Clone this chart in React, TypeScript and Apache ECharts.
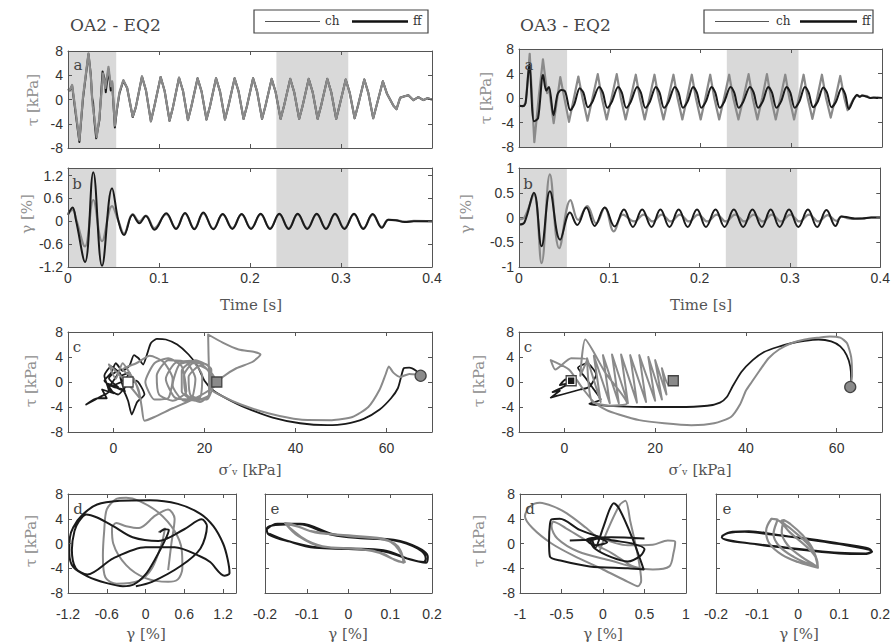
import React, { useEffect, useRef } from "react";
import * as echarts from "echarts";

type Pt = [number, number];

// ---------------- shared ----------------
const shadeWindows: Pt[] = [[0, 0.053], [0.229, 0.308]];
const timeTicks = [0, 0.1, 0.2, 0.3, 0.4];
const timeInnerTicks = [0.1, 0.2, 0.3];
const tauTicks = [-8, -4, 0, 4, 8];
const sigmaTicks = [0, 20, 40, 60];
const gammaTicksOA2 = [-1.2, -0.6, 0, 0.6, 1.2];
const gammaTicksOA3 = [-1, -0.5, 0, 0.5, 1];
const gammaLoopTicks = [-0.2, -0.1, 0, 0.1, 0.2];

// ---------------- OA2 - EQ2 ----------------
const oa2TauStartCh: Pt[] = [
  [0, 1.8], [0.002, 1.6], [0.0045, 2.4], [0.0085, -2.0], [0.0125, -6.7], [0.0165, 0.5], [0.0225, 7.6],
  [0.025, 4.0], [0.027, -0.9], [0.029, -3.0], [0.0315, -6.2], [0.0345, -3.0], [0.0385, 4.3], [0.041, 1.9],
  [0.0445, 5.4], [0.047, 2.2], [0.0485, 3.0], [0.0515, -4.3], [0.0535, -1.8], [0.0565, 1.2], [0.0608, 3.2],
  [0.065, 1.9], [0.0711, -2.8], [0.0745, -1.3],
];
const oa2TauStartFf: Pt[] = [
  [0, 1.7], [0.002, 1.5], [0.0045, 2.3], [0.0085, -2.4], [0.0125, -7.0], [0.0165, 0.2], [0.0225, 7.5],
  [0.025, 4.2], [0.0265, 0.2], [0.0275, -0.4], [0.029, -3.5], [0.031, -6.4], [0.0345, -3.4], [0.038, 4.6],
  [0.0405, 3.2], [0.0415, 1.2], [0.0445, 5.0], [0.047, 1.5], [0.0485, 2.8], [0.0515, -4.6], [0.0535, -2.0],
  [0.0565, 1.0], [0.0608, 3.1], [0.065, 1.9], [0.0711, -2.9], [0.0745, -1.3],
];
const oa2TauCycles: Pt[] = [
  [0.0813, 3.8], [0.0857, 1.5], [0.0911, -3.6], [0.0948, -1.2],
  [0.1018, 3.7], [0.1062, 1.4], [0.1116, -3.5], [0.1153, -1.3],
  [0.122, 3.6], [0.1264, 1.4], [0.1318, -3.4], [0.1355, -1.2],
  [0.1424, 3.5], [0.1468, 1.3], [0.1522, -3.3], [0.1559, -1.2],
  [0.1627, 3.5], [0.1671, 1.3], [0.1725, -3.3], [0.1762, -1.1],
  [0.1831, 3.5], [0.1875, 1.3], [0.1929, -3.2], [0.1966, -1.1],
  [0.2034, 3.5], [0.2078, 1.3], [0.2132, -3.2], [0.2169, -1.1],
  [0.2238, 3.4], [0.2282, 1.2], [0.2336, -3.2], [0.2373, -1.1],
  [0.2442, 3.4], [0.2486, 1.2], [0.254, -3.2], [0.2577, -1.1],
  [0.2645, 3.4], [0.2689, 1.2], [0.2743, -3.2], [0.278, -1.1],
  [0.2849, 3.4], [0.2893, 1.2], [0.2947, -3.2], [0.2984, -1.0],
  [0.3052, 3.3], [0.3096, 1.1], [0.315, -3.1], [0.3187, -1.0],
  [0.3256, 3.3], [0.33, 1.1], [0.3354, -3.1], [0.3391, -1.0],
  [0.346, 3.0], [0.3504, 1.0], [0.3575, -1.0], [0.361, -1.6], [0.365, 0.3], [0.369, 0.5], [0.374, 0.7],
  [0.3795, -0.1], [0.385, 0.4], [0.3905, -0.1], [0.395, 0.2], [0.4, 0.0],
];
const oa2GammaFf: Pt[] = [
  [0, 0.17], [0.005, 0.36], [0.009, 0.0], [0.0187, -1.07], [0.0278, 1.29], [0.0374, -1.17], [0.0484, 0.87],
  [0.0555, 0.0], [0.0615, -0.36], [0.0711, 0.17], [0.0784, -0.05], [0.0855, 0.14], [0.095, -0.22],
  [0.108, 0.21], [0.1187, -0.2], [0.1286, 0.22], [0.1388, -0.21], [0.1487, 0.23], [0.1597, -0.21],
  [0.17, 0.19], [0.1806, -0.2], [0.1908, 0.19], [0.2011, -0.2], [0.2117, 0.2], [0.222, -0.2],
  [0.2322, 0.2], [0.2425, -0.2], [0.2524, 0.2], [0.263, -0.2], [0.2733, 0.2], [0.2835, -0.2],
  [0.2934, 0.2], [0.3037, -0.2], [0.3143, 0.2], [0.3245, -0.2], [0.3348, 0.19], [0.345, -0.17],
  [0.352, 0.04], [0.36, 0.03], [0.37, -0.02], [0.38, 0.0], [0.4, 0.0],
];
const oa2GammaCh: Pt[] = [
  [0, 0.2], [0.005, 0.3], [0.009, 0.05], [0.0187, -0.66], [0.0278, 0.56], [0.0374, -0.52], [0.0484, 0.4],
  [0.0555, 0.0], [0.0615, -0.32], [0.0711, 0.19], [0.0784, 0.0], [0.0855, 0.15], [0.095, -0.18],
  [0.108, 0.19], [0.1187, -0.18], [0.1286, 0.2], [0.1388, -0.19], [0.1487, 0.21], [0.1597, -0.19],
  [0.17, 0.18], [0.1806, -0.18], [0.1908, 0.18], [0.2011, -0.18], [0.2117, 0.18], [0.222, -0.18],
  [0.2322, 0.18], [0.2425, -0.18], [0.2524, 0.18], [0.263, -0.18], [0.2733, 0.18], [0.2835, -0.18],
  [0.2934, 0.18], [0.3037, -0.18], [0.3143, 0.18], [0.3245, -0.18], [0.3348, 0.17], [0.345, -0.15],
  [0.352, 0.04], [0.36, 0.03], [0.37, -0.01], [0.38, 0.01], [0.4, 0.0],
];
const oa2PathFf: Pt[] = [
  [67.5, 1.0], [66.5, 1.8], [65, 2.3], [63.8, 2.2], [63.2, 0.8], [62.5, -1.0], [61, -2.6], [58.5, -4.4],
  [55, -5.9], [51, -6.7], [47, -6.9], [41, -6.6], [35, -5.7], [29, -4.1], [25, -2.7], [22, -1.4], [20, 0.2],
  [18.5, 2.5], [16.5, 4.4], [14, 6.0], [11.5, 6.8], [9.5, 6.9], [8.2, 6.2], [7.4, 4.5], [6.5, 2.8],
  [5.5, 3.8], [4.5, 4.3], [3.5, 2.6], [2, 1.8], [0.5, 3.0], [-0.5, 1.5], [-2, 0.2], [0, -0.8], [2, -1.2],
  [3.2, -3.0], [4, -5.2], [5.2, -3.2], [6.8, -2.0], [5, 0.2], [3, -0.5], [1, -2.0], [-1, -1.0], [1, 1.5],
  [-0.5, 2.5], [-2, 1.0], [-1, -1.5], [-3, -2.4], [-6, -3.6], [-3.5, -2.6], [-1.5, -2.6], [-2.5, -1.2],
  [0, -1.8], [-1.5, -0.2], [1, -0.8], [-1, 0.6], [1, 1.8], [2, 0.2], [0, -0.6], [2.5, -1.5], [1.5, 0.8],
  [3.5, 1.5], [2, -0.5], [4, 0.5], [3.2, 0.0],
];
const oa2PathCh: Pt[] = [
  [67, 1.2], [65, 1.3], [63, 0.8], [61.5, 1.5], [60.5, 2.5], [59.8, 1.2], [58.5, -1.2], [56, -4.0],
  [52.5, -5.6], [48, -6.1], [41, -6.0], [34, -5.0], [28, -3.6], [24, -2.3], [21.5, -1.2], [21, 2.0],
  [20.8, 7.6], [24, 6.3], [27.5, 5.2], [31, 4.8], [32.3, 4.4], [30.5, 3.2], [27, 2.2], [24, 0.8],
  [22, -0.8], [18, -2.6], [13, -4.2], [9, -5.6], [6.8, -6.2], [6.2, -4.0], [5.5, -1.2], [3.5, 1.5],
  [2, 3.0], [0.5, 0.5], [-1, 2.8], [1.5, 1.0], [4, -1.0], [6, -2.8], [4.5, 0.5], [2, 2.0], [5, 3.0],
  [8, 4.2], [11, 3.2], [13, 0.5], [12, -2.6], [9, -2.8], [7, 0.0], [9, 3.0], [12, 3.8], [15, 2.5],
  [16, -1.5], [13, -3.0], [10, -2.0], [9.5, 1.0], [12, 3.5], [16, 3.2], [18, 0.5], [17, -2.8],
  [13.5, -2.5], [11.5, 0.5], [13.5, 3.0], [17, 3.4], [19.5, 1.0], [19, -2.5], [15.5, -3.0], [13, -0.5],
  [14.5, 2.8], [18, 3.3], [21, 1.5], [21, -2.0], [18, -3.0], [15, -1.5], [15, 1.8], [18, 3.5],
  [21.5, 2.0], [21.5, -1.5], [19, -3.2], [16, -2.0], [15.5, 1.0], [17.5, 3.0], [20.5, 2.8], [22, 0.0],
  [20.5, -2.8], [17, -2.2], [16.5, 0.8], [19, 2.6], [21.5, 1.5], [22.7, 0.0],
];
const oa2StartMark: Pt = [67.5, 1.0];
const oa2EndCh: Pt = [22.7, 0.0];
const oa2EndFf: Pt = [3.2, 0.0];
const oa2LoopEarlyFf: Pt[] = [
  [0.22, 1.8], [0.3, 2.3], [0.36, 2.2], [0.3, 0.5], [0.15, -2.5], [0.0, -5.0], [-0.18, -6.6], [-0.35, -6.9],
  [-0.6, -6.4], [-0.9, -5.3], [-1.12, -3.8], [-1.18, -1.5], [-1.17, 1.0], [-1.12, 2.6], [-0.98, 4.6],
  [-0.75, 6.3], [-0.4, 6.9], [0.07, 7.0], [0.5, 6.4], [0.85, 4.8], [1.05, 2.8], [1.2, 0.0], [1.27, -2.5],
  [1.3, -4.8], [1.22, -5.2], [1.0, -3.0], [0.85, -2.1], [0.45, -0.6], [0.0, -0.6], [-0.5, -2.4],
  [-0.9, -5.0], [-1.08, -4.0], [-1.14, -1.0], [-1.1, 2.0], [-1.03, 3.6], [-0.92, 4.7], [-0.75, 4.2],
  [-0.5, 2.8], [-0.2, 1.0], [0.2, 0.4], [0.6, 2.3], [0.87, 3.9], [0.95, 2.8], [0.85, -0.8], [0.55, -3.6],
  [0.1, -6.2], [-0.15, -6.9],
];
const oa2LoopEarlyCh: Pt[] = [
  [0.2, 1.8], [0.3, 2.4], [0.25, 0.0], [0.1, -4.0], [-0.1, -6.0], [-0.45, -6.5], [-0.62, -5.5],
  [-0.66, -2.0], [-0.64, 2.0], [-0.6, 5.5], [-0.45, 7.2], [-0.3, 7.4], [-0.1, 6.9], [0.2, 5.0], [0.45, 2.0],
  [0.56, -1.0], [0.57, -4.0], [0.5, -5.8], [0.35, -6.2], [0.0, -5.6], [-0.3, -3.5], [-0.5, 0.0],
  [-0.52, 2.5], [-0.45, 3.3], [-0.3, 2.8], [-0.1, 2.5], [0.15, 4.5], [0.35, 5.5], [0.45, 4.0], [0.4, 0.0],
  [0.35, -4.3],
];
const oa2LoopLateFf: Pt[] = [
  [-0.196, 2.3], [-0.17, 3.2], [-0.116, 3.2], [-0.036, 1.5], [0.044, 0.9], [0.108, 0.6], [0.164, -0.6],
  [0.19, -2.2], [0.186, -3.1], [0.148, -2.6], [0.084, -1.1], [0.004, -0.8], [-0.076, -0.6], [-0.14, 0.3],
  [-0.19, 1.4], [-0.196, 2.3], [-0.175, 3.0], [-0.12, 3.1], [-0.04, 1.4], [0.04, 0.8], [0.11, 0.5],
  [0.165, -0.8], [0.185, -2.4], [0.18, -3.0], [0.14, -2.4], [0.08, -1.2], [0.0, -0.9], [-0.08, -0.7],
  [-0.145, 0.4], [-0.19, 1.6],
];
const oa2LoopLateCh: Pt[] = [
  [-0.152, 3.3], [-0.12, 2.7], [-0.08, 1.8], [0.0, 1.3], [0.07, 0.9], [0.1, 0.3], [0.12, -1.0],
  [0.135, -3.0], [0.12, -2.9], [0.08, -1.6], [0.03, -0.9], [-0.05, -0.6], [-0.1, 0.5], [-0.14, 2.5],
  [-0.152, 3.3], [-0.13, 3.0], [-0.09, 2.0], [0.0, 1.2], [0.08, 0.7], [0.11, 0.0], [0.125, -1.2],
  [0.132, -3.1], [0.11, -2.6], [0.06, -1.2], [0.0, -0.8], [-0.07, -0.4], [-0.12, 1.2], [-0.148, 3.0],
];

// ---------------- OA3 - EQ2 ----------------
const oa3TauCh: Pt[] = [
  [0, -1.2], [0.004, -1.4], [0.0075, -0.8], [0.0118, 7.2], [0.0169, -7.2], [0.022, 0.5], [0.0264, 6.3],
  [0.031, 0.8], [0.033, 1.6], [0.0382, -4.1], [0.0455, 3.4], [0.0551, -3.9],
  [0.0654, 3.5], [0.07, 0.0], [0.0755, -3.7], [0.081, 0.0],
  [0.0868, 3.9], [0.0913, 0.0], [0.0966, -3.5], [0.102, 0.0],
  [0.1077, 3.9], [0.1122, 0.0], [0.1175, -3.5], [0.123, 0.0],
  [0.1287, 3.8], [0.1332, 0.0], [0.1385, -3.5], [0.1438, 0.0],
  [0.1493, 3.8], [0.1538, 0.0], [0.1592, -3.5], [0.1646, 0.0],
  [0.1702, 3.8], [0.1747, 0.0], [0.18, -3.5], [0.1852, 0.0],
  [0.1904, 3.8], [0.1949, 0.0], [0.2002, -3.5], [0.2054, 0.0],
  [0.2107, 3.8], [0.2152, 0.0], [0.2206, -3.5], [0.226, 0.0],
  [0.2316, 3.8], [0.2361, 0.0], [0.2418, -3.5], [0.2473, 0.0],
  [0.253, 3.9], [0.2575, 0.0], [0.2627, -3.5], [0.268, 0.0],
  [0.2732, 3.9], [0.2777, 0.0], [0.2829, -3.5], [0.2881, 0.0],
  [0.2934, 3.8], [0.2979, 0.0], [0.3031, -3.5], [0.3083, 0.0],
  [0.3136, 3.8], [0.3181, 0.0], [0.3233, -3.4], [0.3285, 0.0],
  [0.3338, 3.8], [0.3383, 0.0], [0.3435, -3.2], [0.3487, 0.0],
  [0.354, 3.6], [0.3585, 0.0], [0.3621, -2.0], [0.3688, -0.1], [0.3724, 0.5], [0.3755, 0.2], [0.378, 0.4],
  [0.3835, 0.3], [0.387, 0.0], [0.3908, 0.0], [0.395, 0.1], [0.4, 0.0],
];
const oa3TauFf: Pt[] = [
  [0, -1.3], [0.005, -1.3], [0.0075, -0.5], [0.0115, 5.5], [0.0165, -3.8], [0.021, -3.3], [0.0265, 3.8],
  [0.03, 1.2], [0.033, 1.8], [0.038, -2.8], [0.0425, 0.6], [0.0465, 1.3], [0.051, 1.0], [0.0565, -2.0],
  [0.061, -1.0],
  [0.0669, 1.6], [0.0709, 0.9], [0.0759, -1.5], [0.0809, -0.6],
  [0.0883, 1.8], [0.0923, 0.9], [0.0973, -1.6], [0.1023, -0.6],
  [0.1092, 1.8], [0.1132, 0.9], [0.1182, -1.6], [0.1232, -0.6],
  [0.1302, 1.8], [0.1342, 0.9], [0.1392, -1.6], [0.1442, -0.6],
  [0.1508, 1.8], [0.1548, 0.9], [0.1598, -1.6], [0.1648, -0.6],
  [0.1717, 1.8], [0.1757, 0.9], [0.1807, -1.6], [0.1857, -0.6],
  [0.1919, 1.8], [0.1959, 0.9], [0.2009, -1.6], [0.2059, -0.6],
  [0.2122, 1.8], [0.2162, 0.9], [0.2212, -1.6], [0.2262, -0.6],
  [0.2331, 1.8], [0.2371, 0.9], [0.2421, -1.6], [0.2471, -0.6],
  [0.2545, 1.8], [0.2585, 0.9], [0.2635, -1.6], [0.2685, -0.6],
  [0.2747, 1.8], [0.2787, 0.9], [0.2837, -1.6], [0.2887, -0.6],
  [0.2949, 1.8], [0.2989, 0.9], [0.3039, -1.6], [0.3089, -0.6],
  [0.3151, 1.8], [0.3191, 0.9], [0.3241, -1.5], [0.3291, -0.6],
  [0.3353, 1.7], [0.3393, 0.9], [0.3443, -1.5], [0.3493, -0.6],
  [0.3555, 1.6], [0.3595, 0.6], [0.3635, -1.8], [0.3688, -0.2], [0.3724, 0.5], [0.3755, 0.2], [0.378, 0.4],
  [0.3835, 0.2], [0.387, 0.0], [0.3908, 0.1], [0.395, 0.0], [0.4, 0.0],
];
const oa3GammaFf: Pt[] = [
  [0, -0.14], [0.006, -0.1], [0.0165, 0.5], [0.025, -0.58], [0.0342, 0.53], [0.0455, -0.45],
  [0.0565, 0.1], [0.0645, -0.15], [0.0745, 0.2], [0.0838, -0.17], [0.0949, 0.2], [0.1059, -0.18],
  [0.1162, 0.16], [0.1261, -0.19], [0.1364, 0.16], [0.1467, -0.19], [0.1566, 0.16], [0.1666, -0.19],
  [0.1768, 0.16], [0.1868, -0.19], [0.1971, 0.16], [0.207, -0.19], [0.2176, 0.16], [0.2276, -0.19],
  [0.2379, 0.16], [0.2482, -0.19], [0.2585, 0.16], [0.2688, -0.19], [0.2787, 0.16], [0.2886, -0.19],
  [0.299, 0.16], [0.3093, -0.19], [0.3199, 0.16], [0.3301, -0.19], [0.3404, 0.15], [0.3504, -0.17],
  [0.357, 0.02], [0.365, 0.0], [0.372, -0.02], [0.38, -0.02], [0.39, 0.0], [0.4, 0.0],
];
const oa3GammaCh: Pt[] = [
  [0, -0.04], [0.006, 0.0], [0.0165, 0.46], [0.025, -0.92], [0.0342, 0.87], [0.0445, -0.62], [0.057, 0.35],
  [0.0655, -0.05], [0.0755, 0.23], [0.0855, -0.12], [0.095, 0.2], [0.105, -0.28], [0.115, 0.06],
  [0.1275, -0.08], [0.138, 0.06], [0.148, -0.08], [0.158, 0.06], [0.168, -0.08], [0.1782, 0.06],
  [0.1882, -0.08], [0.1985, 0.06], [0.2085, -0.08], [0.219, 0.06], [0.229, -0.08], [0.2393, 0.06],
  [0.2495, -0.08], [0.26, 0.06], [0.27, -0.08], [0.28, 0.06], [0.29, -0.08], [0.3005, 0.06],
  [0.3105, -0.08], [0.3212, 0.06], [0.3315, -0.08], [0.3418, 0.05], [0.3515, -0.07], [0.357, 0.02],
  [0.365, -0.02], [0.372, -0.03], [0.38, -0.02], [0.39, 0.0], [0.4, 0.0],
];
const oa3PathFf: Pt[] = [
  [63, -0.8], [63.2, 0.5], [63, 2.5], [62.2, 4.3], [60.8, 5.7], [58.8, 6.5], [56, 6.8], [53, 6.6],
  [50, 6.2], [47, 5.6], [44, 4.8], [41.5, 3.5], [39, 1.6], [37, -0.8], [35.8, -2.4], [34.3, -3.3],
  [31.5, -3.8], [25, -4.0], [18, -4.0], [12, -3.9], [7.5, -3.7], [5.5, -3.5], [8, -2.8], [6.5, -1.2],
  [4.5, 0.8], [3, 2.3], [5, 3.0], [7, 1.2], [5.5, -0.8], [3.5, -1.2], [1.5, -1.6], [-0.5, -2.0],
  [-3, -2.5], [-1, -1.4], [-2.6, -1.6], [-0.5, -0.9], [1, -0.2], [-1, -0.5], [0.3, 0.4], [2, 0.3],
  [1.5, 0.2],
];
const oa3PathCh: Pt[] = [
  [63, -0.8], [63.4, 1.0], [63.2, 4.0], [62.3, 6.2], [60.8, 7.1], [58.5, 7.3], [56, 7.1], [53, 6.8],
  [50, 6.2], [47.3, 5.2], [45, 3.8], [43, 1.8], [41.3, 0.0], [40, -1.4], [38.7, -3.6], [36.7, -5.6],
  [33, -6.6], [28, -6.9], [22, -6.6], [16.5, -6.1], [12, -5.2], [9.3, -4.5], [6.5, -3.2], [4, -1.0],
  [1, 2.0], [-3, 3.5], [-2, 2.0], [1.5, 3.8], [5, 3.6], [3.5, 1.0], [4.6, 6.8], [9, 1.5], [13.8, -3.4],
  [10, -3.8], [6, -3.0], [5, 3.8], [8, -3.2], [6.5, 4.2], [10, -3.4], [8.5, 4.3], [12, -3.4],
  [10.5, 4.4], [14, -3.4], [12.5, 4.4], [16, -3.3], [14.5, 4.3], [18, -3.2], [16.5, 4.3], [20, -3.0],
  [18.5, 4.0], [21.5, -2.8], [20, 3.5], [22.5, -2.0], [21.5, 2.2], [23, -0.5], [24, 0.2],
];
const oa3StartMark: Pt = [63, -0.8];
const oa3EndCh: Pt = [24, 0.2];
const oa3EndFf: Pt = [1.5, 0.2];
const oa3LoopEarlyCh: Pt[] = [
  [-0.04, -1.2], [0.05, 2.0], [0.2, 6.2], [0.27, 6.9], [0.33, 3.5], [0.42, -2.0], [0.46, -6.0],
  [0.42, -6.9], [0.3, -6.2], [0.0, -4.2], [-0.35, -2.0], [-0.62, 0.0], [-0.85, 2.5], [-0.94, 4.4],
  [-0.88, 6.0], [-0.76, 6.6], [-0.6, 6.0], [-0.44, 4.9], [-0.2, 2.5], [-0.08, 1.2], [0.3, -0.3],
  [0.6, -0.2], [0.78, 0.5], [0.87, 0.3], [0.85, -1.5], [0.8, -3.7], [0.6, -4.2], [0.4, -3.9],
  [0.1, -2.8], [-0.3, -1.3], [-0.55, 0.8], [-0.62, 2.8], [-0.6, 3.5], [-0.45, 2.5], [-0.2, 0.5],
  [0.1, -1.5], [0.33, -3.5], [0.45, -4.0],
];
const oa3LoopEarlyFf: Pt[] = [
  [-0.4, 0.5], [-0.14, 0.6], [-0.1, -0.8], [0.0, 2.5], [0.08, 5.5], [0.13, 6.5], [0.2, 5.5], [0.35, 1.0],
  [0.46, -3.0], [0.49, -4.2], [0.3, -4.0], [-0.16, -3.7], [-0.5, -2.8], [-0.64, -2.1], [-0.65, 0.5],
  [-0.64, 3.0], [-0.62, 3.9], [-0.52, 4.0], [-0.28, 2.2], [0.08, 0.6], [0.35, 0.0], [0.5, -0.9],
  [0.45, -2.0], [0.3, -2.9], [0.1, -2.2], [-0.1, -0.8], [-0.15, 0.3], [-0.05, 0.8], [0.05, 0.2],
  [-0.1, -0.3], [-0.2, 0.6], [0.1, 1.0], [0.5, 0.8],
];
const oa3LoopLateFf: Pt[] = [
  [-0.186, 1.2], [-0.16, 1.9], [-0.12, 2.0], [-0.06, 1.5], [0.02, 0.7], [0.1, -0.1], [0.16, -0.8],
  [0.18, -1.3], [0.16, -1.7], [0.1, -1.6], [0.02, -1.1], [-0.06, -0.5], [-0.13, 0.1], [-0.17, 0.5],
  [-0.186, 1.0], [-0.17, 1.7], [-0.13, 1.9], [-0.06, 1.4], [0.02, 0.8], [0.1, 0.0], [0.165, -0.7],
  [0.178, -1.2], [0.165, -1.6], [0.1, -1.5], [0.02, -1.0], [-0.06, -0.4], [-0.14, 0.2], [-0.18, 0.7],
];
const oa3LoopLateCh: Pt[] = [
  [-0.065, 4.0], [-0.078, 2.0], [-0.07, 0.0], [-0.04, -1.8], [0.0, -3.0], [0.048, -3.9], [0.045, -2.5],
  [0.02, -0.5], [-0.02, 1.8], [-0.045, 3.6], [-0.065, 4.0], [-0.05, 3.9], [-0.06, 1.5], [-0.045, -0.5],
  [-0.01, -2.2], [0.03, -3.4], [0.048, -3.9], [0.04, -1.6], [0.015, 0.5], [-0.02, 2.5], [-0.04, 3.7],
  [-0.035, 3.8], [-0.04, 1.8], [-0.025, -0.3], [0.005, -2.0], [0.04, -3.5], [0.048, -3.8],
  [0.035, -0.8], [0.01, 1.4], [-0.02, 3.2], [-0.035, 3.8],
];

// ---------------- styling ----------------
const GRAY = "#8a8a8a";
const BLACK = "#1a1a1a";
const FRAME = "#555";
const SANS = "Liberation Sans";
const SERIF = "DejaVu Serif";

interface PanelDef {
  left: number; top: number; width: number; height: number;
  xMin: number; xMax: number; xTicks: number[]; xLabels: boolean; xMargin: number;
  yMin: number; yMax: number; yTicks: number[]; yLabels: boolean;
}

const panels: PanelDef[] = [
  { left: 68, top: 51, width: 364, height: 97, xMin: 0, xMax: 0.4, xTicks: timeInnerTicks, xLabels: false, xMargin: 4, yMin: -8, yMax: 8, yTicks: tauTicks, yLabels: true },
  { left: 68, top: 168, width: 364, height: 99, xMin: 0, xMax: 0.4, xTicks: timeTicks, xLabels: true, xMargin: 4, yMin: -1.2, yMax: 1.4, yTicks: gammaTicksOA2, yLabels: true },
  { left: 68, top: 332, width: 364, height: 100, xMin: -10, xMax: 70, xTicks: sigmaTicks, xLabels: true, xMargin: 9, yMin: -8, yMax: 8, yTicks: tauTicks, yLabels: true },
  { left: 68, top: 494, width: 168, height: 99, xMin: -1.2, xMax: 1.4, xTicks: gammaTicksOA2, xLabels: true, xMargin: 14, yMin: -8, yMax: 8, yTicks: tauTicks, yLabels: true },
  { left: 265, top: 494, width: 167, height: 99, xMin: -0.2, xMax: 0.2, xTicks: gammaLoopTicks, xLabels: true, xMargin: 14, yMin: -8, yMax: 8, yTicks: tauTicks, yLabels: false },
  { left: 519, top: 49, width: 363, height: 98, xMin: 0, xMax: 0.4, xTicks: timeInnerTicks, xLabels: false, xMargin: 4, yMin: -8, yMax: 8, yTicks: tauTicks, yLabels: true },
  { left: 519, top: 168, width: 363, height: 99, xMin: 0, xMax: 0.4, xTicks: timeTicks, xLabels: true, xMargin: 4, yMin: -1, yMax: 1, yTicks: gammaTicksOA3, yLabels: true },
  { left: 519, top: 332, width: 363, height: 100, xMin: -10, xMax: 70, xTicks: sigmaTicks, xLabels: true, xMargin: 9, yMin: -8, yMax: 8, yTicks: tauTicks, yLabels: true },
  { left: 520, top: 494, width: 166, height: 99, xMin: -1, xMax: 1, xTicks: gammaTicksOA3, xLabels: true, xMargin: 14, yMin: -8, yMax: 8, yTicks: tauTicks, yLabels: true },
  { left: 716, top: 494, width: 166, height: 99, xMin: -0.2, xMax: 0.2, xTicks: gammaLoopTicks, xLabels: true, xMargin: 14, yMin: -8, yMax: 8, yTicks: tauTicks, yLabels: false },
];

function lineSeries(data: Pt[], g: number, color: string, width: number, z: number, smooth: number | boolean, extra: any = {}) {
  return {
    type: "line", xAxisIndex: g, yAxisIndex: g, data, showSymbol: false, symbol: "none",
    smooth, lineStyle: { color, width, join: "round" }, itemStyle: { color }, z, silent: true, clip: true,
    ...extra,
  };
}

function shade() {
  return {
    markArea: {
      silent: true,
      itemStyle: { color: "#d9d9d9" },
      data: shadeWindows.map(([a, b]) => [{ xAxis: a }, { xAxis: b }]),
    },
  };
}

function marker(p: Pt, g: number, symbol: string, size: number, fill: string, border: string) {
  return {
    type: "scatter", xAxisIndex: g, yAxisIndex: g, data: [p], symbol, symbolSize: size, z: 6, silent: true,
    itemStyle: { color: fill, borderColor: border, borderWidth: 1.3, opacity: 1 },
  };
}

function buildOption(): any {
  const grid = panels.map((p) => ({ left: p.left, top: p.top, width: p.width, height: p.height }));
  const xAxis: any[] = [];
  const yAxis: any[] = [];
  const tickStyle = { color: FRAME, width: 1 };
  panels.forEach((p, i) => {
    xAxis.push({
      type: "value", gridIndex: i, min: p.xMin, max: p.xMax, position: "bottom", z: 10,
      axisLine: { show: true, onZero: false, lineStyle: { color: FRAME, width: 1 } },
      axisTick: { show: true, inside: true, length: 4, customValues: p.xTicks, lineStyle: tickStyle },
      axisLabel: { show: p.xLabels, customValues: p.xTicks, margin: p.xMargin, fontFamily: SANS, fontSize: 14, color: "#333" },
      splitLine: { show: false },
    });
    yAxis.push({
      type: "value", gridIndex: i, min: p.yMin, max: p.yMax, position: "left", z: 10,
      axisLine: { show: true, onZero: false, lineStyle: { color: FRAME, width: 1 } },
      axisTick: { show: true, inside: true, length: 4, customValues: p.yTicks, lineStyle: tickStyle },
      axisLabel: { show: p.yLabels, customValues: p.yTicks, margin: 5, fontFamily: SANS, fontSize: 14, color: "#333" },
      splitLine: { show: false },
    });
  });
  panels.forEach((p, i) => {
    xAxis.push({
      type: "value", gridIndex: i, min: p.xMin, max: p.xMax, position: "top", z: 10,
      axisLine: { show: true, onZero: false, lineStyle: { color: FRAME, width: 1 } },
      axisTick: { show: true, inside: true, length: 4, customValues: p.xTicks, lineStyle: tickStyle },
      axisLabel: { show: false }, splitLine: { show: false },
    });
    yAxis.push({
      type: "value", gridIndex: i, min: p.yMin, max: p.yMax, position: "right", z: 10,
      axisLine: { show: true, onZero: false, lineStyle: { color: FRAME, width: 1 } },
      axisTick: { show: true, inside: true, length: 4, customValues: p.yTicks, lineStyle: tickStyle },
      axisLabel: { show: false }, splitLine: { show: false },
    });
  });

  const oa2TauCh = oa2TauStartCh.concat(oa2TauCycles);
  const oa2TauFf = oa2TauStartFf.concat(oa2TauCycles);

  const series: any[] = [
    // OA2 a
    lineSeries(oa2TauFf, 0, BLACK, 2, 2, false, shade()),
    lineSeries(oa2TauCh, 0, GRAY, 2.2, 3, false),
    // OA2 b
    lineSeries(oa2GammaCh, 1, GRAY, 2.2, 2, 0.4, shade()),
    lineSeries(oa2GammaFf, 1, BLACK, 2, 3, 0.4),
    // OA2 c
    lineSeries(oa2PathFf, 2, BLACK, 1.8, 2, 0.2),
    lineSeries(oa2PathCh, 2, GRAY, 2, 3, 0.2),
    marker(oa2EndFf, 2, "rect", 10, "#ffffff", "#444"),
    marker(oa2EndCh, 2, "rect", 10, GRAY, "#444"),
    marker(oa2StartMark, 2, "circle", 11, GRAY, "#444"),
    // OA2 d
    lineSeries(oa2LoopEarlyCh, 3, GRAY, 2, 2, 0.3),
    lineSeries(oa2LoopEarlyFf, 3, BLACK, 2, 3, 0.3),
    // OA2 e
    lineSeries(oa2LoopLateFf, 4, BLACK, 2, 2, 0.4),
    lineSeries(oa2LoopLateCh, 4, GRAY, 2.2, 3, 0.4),
    // OA3 a
    lineSeries(oa3TauCh, 5, GRAY, 2.2, 2, false, shade()),
    lineSeries(oa3TauFf, 5, BLACK, 2, 3, 0.3),
    // OA3 b
    lineSeries(oa3GammaCh, 6, GRAY, 2.2, 2, 0.4, shade()),
    lineSeries(oa3GammaFf, 6, BLACK, 2, 3, 0.4),
    // OA3 c
    lineSeries(oa3PathFf, 7, BLACK, 1.8, 2, 0.2),
    lineSeries(oa3PathCh, 7, GRAY, 2, 3, 0.2),
    marker(oa3EndFf, 7, "rect", 10, "#ffffff", "#444"),
    marker(oa3EndFf, 7, "rect", 5, BLACK, BLACK),
    marker(oa3EndCh, 7, "rect", 10, GRAY, "#444"),
    marker(oa3StartMark, 7, "circle", 11, GRAY, "#444"),
    // OA3 d
    lineSeries(oa3LoopEarlyCh, 8, GRAY, 2, 2, 0.3),
    lineSeries(oa3LoopEarlyFf, 8, BLACK, 2, 3, 0.3),
    // OA3 e
    lineSeries(oa3LoopLateFf, 9, BLACK, 2, 2, 0.4),
    lineSeries(oa3LoopLateCh, 9, GRAY, 2.2, 3, 0.4),
  ];

  const txt = (text: string, x: number, y: number, size: number, color: string, opts: any = {}) => ({
    type: "text", x, y, z: 50, silent: true, rotation: opts.rotation || 0,
    style: {
      text, fontFamily: opts.family || SERIF, fontSize: size, fill: color,
      align: opts.align || "center", verticalAlign: "middle",
    },
  });

  const legend = (x0: number, w: number, chL: [number, number], chT: number, ffL: [number, number], ffT: number) => [
    { type: "rect", z: 40, silent: true, shape: { x: x0, y: 10, width: w, height: 23 }, style: { fill: "#fff", stroke: "#444", lineWidth: 1.2 } },
    { type: "line", z: 41, silent: true, shape: { x1: chL[0], y1: 21.5, x2: chL[1], y2: 21.5 }, style: { stroke: "#555", lineWidth: 1.2 } },
    txt("ch", chT, 21, 12, "#333", { align: "left" }),
    { type: "line", z: 41, silent: true, shape: { x1: ffL[0], y1: 21.5, x2: ffL[1], y2: 21.5 }, style: { stroke: "#111", lineWidth: 2.6 } },
    txt("ff", ffT, 21, 12, "#333", { align: "left" }),
  ];

  const R = Math.PI / 2;
  const yName = "#8e8e8e";
  const xName = "#555";
  const graphic: any[] = [
    txt("OA2 - EQ2", 70, 25, 17, "#444", { align: "left" }),
    txt("OA3 - EQ2", 520, 25, 17, "#444", { align: "left" }),
    ...legend(254, 174, [265, 320], 325, [352, 408], 413),
    ...legend(704, 169, [715, 769], 776, [800, 857], 862),
    // panel letters
    txt("a", 78, 65, 15, "#444"),
    txt("b", 77, 184, 15, "#444"),
    txt("c", 77, 347, 15, "#444"),
    txt("d", 78, 509, 15, "#444"),
    txt("e", 275, 509, 15, "#444"),
    txt("a", 529, 65, 15, "#444"),
    txt("b", 528, 184, 15, "#444"),
    txt("c", 528, 347, 15, "#444"),
    txt("d", 530, 509, 15, "#444"),
    txt("e", 727, 509, 15, "#444"),
    // x names
    txt("Time [s]", 251, 305, 15, xName),
    txt("Time [s]", 701, 305, 15, xName),
    txt("σ′ᵥ [kPa]", 250, 470, 15, xName),
    txt("σ′ᵥ [kPa]", 700, 470, 15, xName),
    txt("γ [%]", 146, 634, 15, xName),
    txt("γ [%]", 348, 634, 15, xName),
    txt("γ [%]", 603, 634, 15, xName),
    txt("γ [%]", 799, 634, 15, xName),
    // y names
    txt("τ [kPa]", 33, 100, 15, yName, { rotation: R }),
    txt("γ [%]", 27, 214, 15, yName, { rotation: R }),
    txt("τ [kPa]", 31, 381, 15, yName, { rotation: R }),
    txt("τ [kPa]", 31, 541, 15, yName, { rotation: R }),
    txt("τ [kPa]", 486, 98, 15, yName, { rotation: R }),
    txt("γ [%]", 466, 214, 15, yName, { rotation: R }),
    txt("τ [kPa]", 479, 381, 15, yName, { rotation: R }),
    txt("τ [kPa]", 479, 541, 15, yName, { rotation: R }),
  ];

  return { animation: false, backgroundColor: "#ffffff", grid, xAxis, yAxis, series, graphic };
}

export default function App() {
  const ref = useRef<HTMLDivElement | null>(null);
  useEffect(() => {
    if (!ref.current) return;
    const chart = echarts.init(ref.current, undefined, { renderer: "svg" });
    chart.setOption(buildOption());
    return () => chart.dispose();
  }, []);
  return (
    <div
      ref={ref}
      style={{ position: "fixed", left: 0, top: 0, width: 893, height: 644, background: "#fff" }}
    />
  );
}
